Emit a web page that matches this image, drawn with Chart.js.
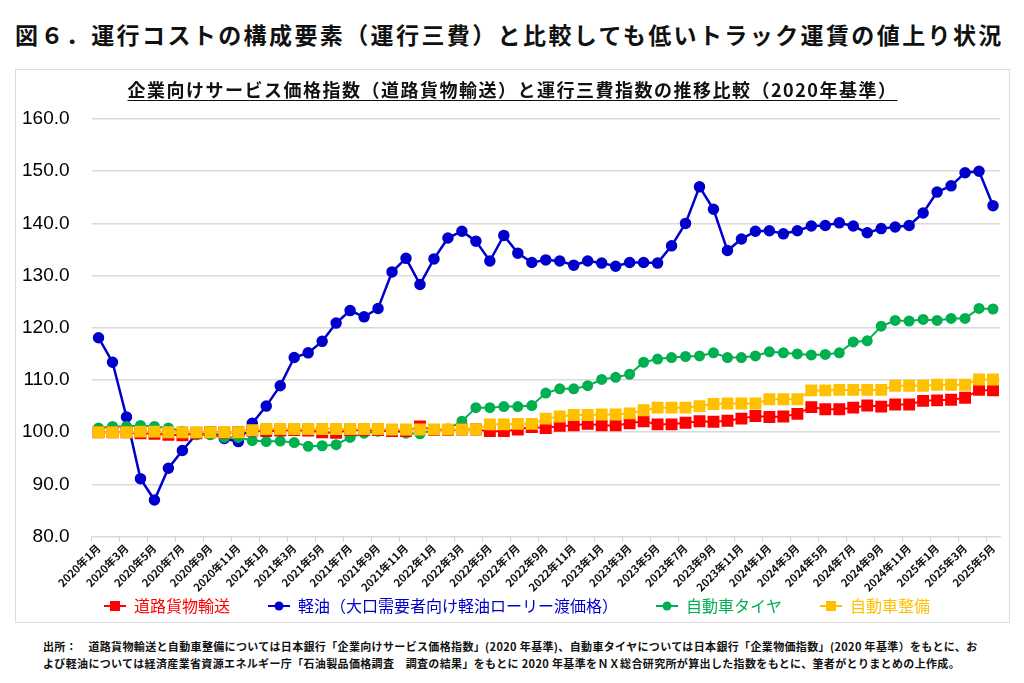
<!DOCTYPE html>
<html lang="ja">
<head>
<meta charset="utf-8">
<script src="https://cdn.jsdelivr.net/npm/chart.js@4.4.1/dist/chart.umd.min.js"></script>
<style>
  body { margin: 0; width: 1024px; height: 683px; background: #fff; position: relative; overflow: hidden;
         font-family: "Noto Sans CJK JP", "Noto Sans", sans-serif; }
  #fig-title { position: absolute; left: 15px; top: 17px; font-size: 23px; font-weight: bold; letter-spacing: 2.4px; color: #111; white-space: nowrap; }
  #box { position: absolute; left: 15px; top: 69px; width: 993px; height: 552px; border: 1px solid #dcdcdc; }
  #chart-title { position: absolute; left: 0; right: 0; top: 6px; text-align: center; font-size: 18px; font-weight: bold;
                 letter-spacing: 1.5px; text-decoration: underline; text-underline-offset: 3px; color: #111; white-space: nowrap; }
  .note { position: absolute; left: 43px; font-size: 11px; font-weight: bold; letter-spacing: 0.35px; color: #111; white-space: nowrap; }
</style>
</head>
<body>
<div id="fig-title">図６．運行コストの構成要素（運行三費）と比較しても低いトラック運賃の値上り状況</div>
<div id="box">
  <canvas id="trend" width="993" height="552"></canvas>
  <div id="chart-title">企業向けサービス価格指数（道路貨物輸送）と運行三費指数の推移比較（2020年基準）</div>
</div>
<div class="note" style="top:638px">出所：　道路貨物輸送と自動車整備については日本銀行「企業向けサービス価格指数」(2020 年基準)、自動車タイヤについては日本銀行「企業物価指数」(2020 年基準）をもとに、お</div>
<div class="note" style="top:655px">よび軽油については経済産業省資源エネルギー庁「石油製品価格調査　調査の結果」をもとに 2020 年基準をＮＸ総合研究所が算出した指数をもとに、筆者がとりまとめの上作成。</div>
<script>
// 2020年1月 〜 2025年5月
var months = [];
for (var y = 2020; y <= 2025; y++) {
    for (var m = 1; m <= 12; m++) {
        if (y === 2025 && m > 5) break;
        months.push(y + '年' + m + '月');
    }
}

var roadFreight = [
    100.0, 100.0, 100.0, 99.8, 99.7, 99.5, 99.4, 99.8, 100.0, 99.9, 100.0,
    100.3, 100.2, 100.3, 100.4, 100.3, 100.0, 99.9, 100.4, 100.4, 100.4, 100.2,
    100.2, 101.1, 100.4, 100.4, 100.5, 100.5, 100.2, 100.2, 100.5, 101.0, 100.8,
    101.2, 101.3, 101.6, 101.3, 101.3, 101.7, 102.1, 101.5, 101.5, 101.8, 102.1,
    102.0, 102.2, 102.6, 103.1, 102.9, 103.0, 103.5, 104.8, 104.4, 104.4, 104.7,
    105.1, 104.9, 105.3, 105.3, 106.0, 106.1, 106.2, 106.6, 108.1, 108.0
];
var diesel = [
    118.1, 113.4, 102.9, 91.1, 87.0, 93.1, 96.5, 99.6, 100.0, 98.8, 98.2,
    101.7, 105.0, 108.9, 114.3, 115.2, 117.4, 120.9, 123.3, 122.1, 123.7, 130.7,
    133.3, 128.3, 133.2, 137.2, 138.5, 136.6, 132.8, 137.7, 134.3, 132.5, 133.0,
    132.8, 132.0, 132.8, 132.4, 131.8, 132.5, 132.5, 132.4, 135.7, 140.0, 147.0,
    142.7, 134.8, 137.0, 138.5, 138.6, 138.0, 138.6, 139.5, 139.6, 140.1, 139.5,
    138.2, 139.0, 139.3, 139.6, 142.0, 146.0, 147.2, 149.7, 150.0, 143.4
];
var tires = [
    100.8, 101.1, 101.1, 101.3, 101.1, 100.8, 100.2, 99.5, 99.5, 99.0, 99.0,
    98.4, 98.2, 98.3, 98.0, 97.3, 97.4, 97.6, 99.0, 99.8, 100.2, 100.4,
    99.8, 99.7, 100.4, 100.6, 102.1, 104.7, 104.7, 104.9, 104.9, 105.1, 107.5,
    108.3, 108.3, 108.9, 110.1, 110.5, 111.1, 113.4, 114.0, 114.3, 114.5, 114.6,
    115.2, 114.3, 114.3, 114.6, 115.4, 115.2, 115.0, 114.8, 114.9, 115.2, 117.3,
    117.5, 120.3, 121.4, 121.3, 121.6, 121.4, 121.8, 121.8, 123.7, 123.6
];
var maintenance = [
    100.0, 100.0, 100.0, 100.1, 100.1, 100.0, 100.0, 100.0, 100.0, 100.0, 100.0,
    100.4, 100.6, 100.6, 100.6, 100.6, 100.6, 100.6, 100.6, 100.6, 100.6, 100.5,
    100.5, 100.5, 100.5, 100.5, 100.5, 100.5, 101.5, 101.5, 101.6, 101.6, 102.6,
    103.0, 103.3, 103.3, 103.4, 103.4, 103.6, 104.2, 104.7, 104.7, 104.7, 105.0,
    105.4, 105.5, 105.5, 105.5, 106.3, 106.3, 106.3, 108.0, 108.0, 108.1, 108.1,
    108.1, 108.1, 108.9, 108.9, 108.9, 109.1, 109.1, 109.1, 110.1, 110.1
];

var RED = '#ff0000', BLUE = '#0000cc', GREEN = '#00b050', YELLOW = '#ffc000';

// legend icons: blank space on the left works as the gap between items
function legendIcon(color, shape) {
    var c = document.createElement('canvas');
    c.width = 56; c.height = 12;
    var g = c.getContext('2d');
    g.strokeStyle = color; g.fillStyle = color; g.lineWidth = 2;
    g.beginPath(); g.moveTo(34, 6); g.lineTo(56, 6); g.stroke();
    if (shape === 'rect') {
        g.fillRect(40, 1, 10, 10);
    } else {
        g.beginPath(); g.arc(45, 6, 4.5, 0, Math.PI * 2); g.fill();
    }
    return c;
}
var icons = [legendIcon(RED, 'rect'), legendIcon(BLUE, 'circle'), legendIcon(GREEN, 'circle'), legendIcon(YELLOW, 'rect')];
var textColors = [RED, BLUE, GREEN, YELLOW];

var ctx = document.getElementById('trend');
var trend = new Chart(ctx, {
    type: 'line',
    data: {
        labels: months,
        datasets: [{
            label: '道路貨物輸送',
            data: roadFreight,
            borderColor: RED,
            backgroundColor: RED,
            borderWidth: 2,
            pointStyle: 'rect',
            pointRadius: 7,
            order: 1
        }, {
            label: '軽油（大口需要者向け軽油ローリー渡価格）',
            data: diesel,
            borderColor: BLUE,
            backgroundColor: BLUE,
            borderWidth: 2.5,
            pointStyle: 'circle',
            pointRadius: 4.5,
            order: 3
        }, {
            label: '自動車タイヤ',
            data: tires,
            borderColor: GREEN,
            backgroundColor: GREEN,
            borderWidth: 2,
            pointStyle: 'circle',
            pointRadius: 4.5,
            order: 2
        }, {
            label: '自動車整備',
            data: maintenance,
            borderColor: YELLOW,
            backgroundColor: YELLOW,
            borderWidth: 2,
            pointStyle: 'rect',
            pointRadius: 7,
            order: 0
        }]
    },
    options: {
        responsive: false,
        animation: false,
        // y tick padding is counted twice in the axis width, hence the negative left
        layout: { padding: { top: 49, left: -16, right: 9, bottom: -2 } },
        plugins: {
            title: { display: false },
            tooltip: { enabled: false },
            legend: {
                position: 'bottom',
                labels: {
                    usePointStyle: true,
                    pointStyleWidth: 56,
                    padding: 4,
                    font: { family: '"Noto Sans CJK JP"', size: 16 },
                    generateLabels: function(chart) {
                        var items = Chart.defaults.plugins.legend.labels.generateLabels(chart);
                        items.sort(function(a, b) { return a.datasetIndex - b.datasetIndex; });
                        items.forEach(function(it) {
                            it.pointStyle = icons[it.datasetIndex];
                            it.fontColor = textColors[it.datasetIndex];
                        });
                        return items;
                    }
                }
            }
        },
        scales: {
            x: {
                offset: true,
                afterFit: function(s) { s.paddingLeft = 0; },
                grid: {
                    drawOnChartArea: false,
                    offset: true,
                    tickLength: 5,
                    color: function(c) { return c.index % 2 === 0 ? '#d0d0d0' : 'rgba(0,0,0,0)'; }
                },
                border: { color: '#d9d9d9' },
                ticks: {
                    autoSkip: false,
                    minRotation: 45,
                    maxRotation: 45,
                    padding: 0,
                    color: '#111',
                    font: { family: '"Noto Sans CJK JP"', size: 11, weight: 'bold' },
                    callback: function(v, i) { return i % 2 === 0 ? months[i] : ''; }
                }
            },
            y: {
                min: 80,
                max: 160,
                ticks: {
                    stepSize: 10,
                    padding: 22,
                    color: '#000',
                    font: { family: '"Liberation Sans", Arial', size: 19 },
                    callback: function(v) { return v.toFixed(1); }
                },
                grid: { color: '#dadada', lineWidth: 1.5, drawTicks: false },
                border: { display: false }
            }
        }
    }
});
</script>
</body>
</html>
